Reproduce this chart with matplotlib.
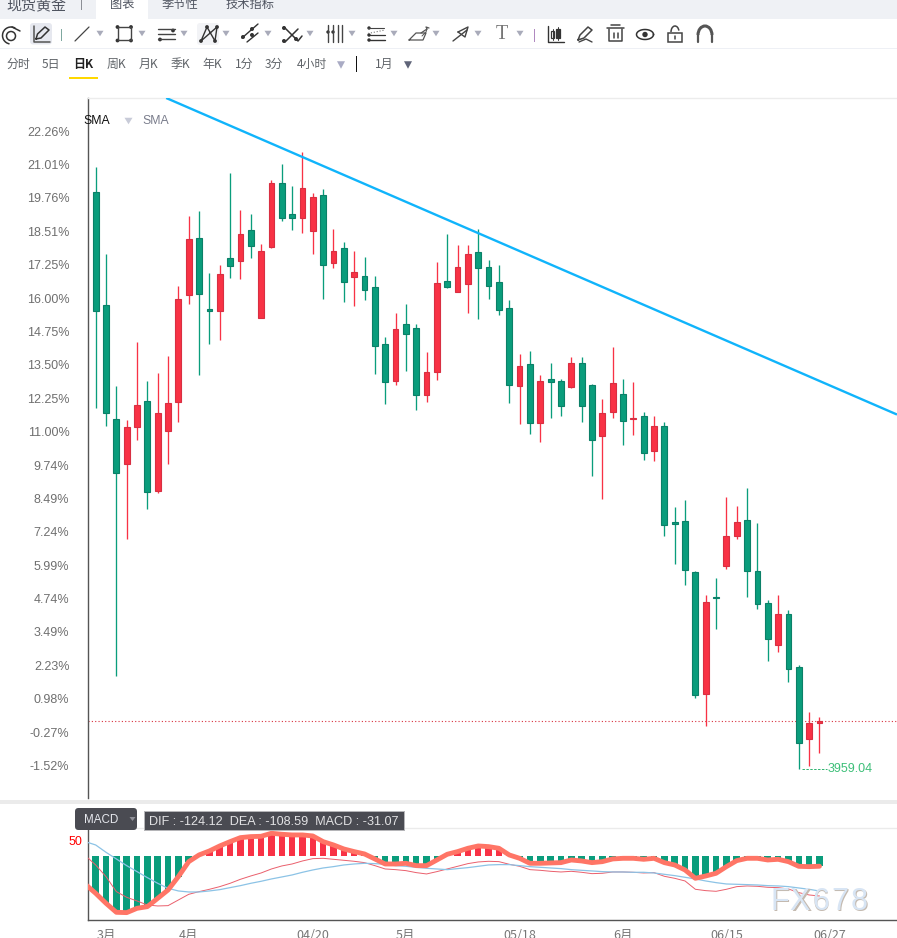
import matplotlib
matplotlib.use("Agg")
import matplotlib.pyplot as plt
import numpy as np
from matplotlib.patches import Rectangle, FancyBboxPatch, Polygon, Circle, Arc

plt.rcParams['font.family'] = ['Noto Sans CJK SC', 'DejaVu Sans']

W, H = 897, 938
GREEN = '#0a9d7c'
GREEN_EDGE = '#0b8068'
RED = '#f83245'
RED_EDGE = '#d82f42'

# Daily candles, percent change against the reference price
opens = [19.98, 15.74, 11.46, 9.80, 11.19, 12.14, 8.79, 11.04, 12.12, 16.14, 18.25, 15.60,
         15.54, 17.50, 17.41, 18.55, 15.27, 17.94, 20.31, 19.16, 19.02, 18.54, 19.86, 17.34,
         17.88, 16.81, 16.83, 16.41, 14.28, 12.91, 15.03, 14.88, 12.39, 13.25, 16.64, 16.25,
         16.55, 17.73, 17.16, 16.60, 15.63, 12.72, 13.53, 11.34, 12.96, 12.89, 12.69, 13.56,
         12.74, 10.85, 11.75, 12.40, 11.49, 11.58, 10.29, 11.21, 7.61, 7.64, 5.73, 1.17,
         4.80, 5.97, 7.10, 7.68, 5.76, 4.56, 3.01, 4.15, 2.16, -0.51, 0.09]
closes = [15.54, 11.71, 9.46, 11.16, 11.99, 8.75, 11.69, 12.06, 15.96, 18.21, 16.17, 15.54,
          16.90, 17.22, 18.40, 17.97, 17.76, 20.31, 19.02, 19.02, 20.13, 19.79, 17.26, 17.76,
          16.62, 16.98, 16.32, 14.22, 12.87, 14.84, 14.67, 12.39, 13.23, 16.56, 16.44, 17.16,
          17.65, 17.15, 16.47, 15.57, 12.76, 13.45, 11.34, 12.89, 12.87, 11.97, 13.56, 11.97,
          10.70, 11.69, 12.81, 11.41, 11.50, 10.19, 11.21, 7.51, 7.55, 5.82, 1.14, 4.60,
          4.77, 7.08, 7.60, 5.79, 4.55, 3.24, 4.15, 2.11, -0.66, 0.06, 0.14]
highs = [20.91, 17.66, 12.71, 11.44, 14.36, 12.90, 13.20, 13.84, 16.46, 19.09, 19.28, 16.95,
         17.25, 20.70, 19.31, 19.16, 18.04, 20.44, 21.04, 20.21, 21.48, 19.95, 20.09, 18.60,
         18.11, 17.78, 17.55, 16.84, 14.55, 15.45, 15.79, 15.04, 13.99, 17.36, 18.41, 18.00,
         18.00, 18.59, 17.43, 17.24, 15.94, 13.91, 14.03, 13.13, 13.58, 12.98, 13.80, 13.80,
         12.79, 12.23, 14.18, 12.98, 12.86, 11.74, 11.59, 11.36, 8.18, 8.44, 5.78, 4.88,
         5.51, 8.55, 8.21, 8.89, 7.58, 4.69, 4.88, 4.31, 2.25, 0.49, 0.30]
lows = [11.88, 11.22, 1.85, 6.98, 10.69, 8.10, 8.71, 9.80, 11.37, 15.80, 13.14, 14.30,
        14.44, 16.77, 16.73, 17.52, 15.27, 17.90, 18.91, 18.57, 18.46, 17.67, 15.99, 17.15,
        15.87, 15.72, 15.95, 13.17, 12.05, 12.76, 13.29, 11.82, 12.12, 12.95, 16.40, 16.25,
        15.46, 15.24, 15.99, 15.39, 12.09, 11.30, 10.92, 10.62, 11.52, 11.60, 12.65, 11.37,
        9.35, 8.49, 11.52, 10.51, 10.89, 9.95, 9.91, 7.10, 6.05, 5.26, 1.02, -0.03,
        3.60, 5.86, 6.99, 4.81, 4.36, 2.41, 2.75, 1.62, -1.64, -1.53, -1.04]

pct_ticks = [22.26, 21.01, 19.76, 18.51, 17.25, 16.00, 14.75, 13.50, 12.25, 11.00,
             9.74, 8.49, 7.24, 5.99, 4.74, 3.49, 2.23, 0.98, -0.27, -1.52]

trend_x = [6.82, 77.5]
trend_y = [23.51, 11.64]

low_label = '3959.04'

# MACD values, first entry belongs to the session before the visible range
macd = [-87.5, -115.6, -146.9, -175.0, -176.0, -162.5, -157.3, -131.3, -105.2, -63.5, -16.7, 4.2,
        16.7, 32.3, 45.8, 58.3, 61.5, 62.5, 71.9, 68.8, 66.7, 66.7, 63.5, 45.8,
        35.4, 22.9, 14.6, 7.3, -8.3, -24.0, -24.0, -21.9, -29.2, -29.2, -11.5, 6.3,
        14.6, 25.0, 32.3, 30.2, 25.0, 4.2, -6.3, -21.9, -21.9, -20.8, -19.8, -11.5,
        -14.6, -19.8, -16.7, -8.3, -6.3, -6.3, -9.4, -6.3, -19.8, -27.1, -42.7, -68.8,
        -61.5, -53.1, -32.3, -13.5, -6.3, -6.3, -11.5, -9.4, -16.7, -31.3, -32.3, -31.07]
dif = [2.1, -27.1, -63.5, -110.4, -128.1, -139.6, -152.1, -155.2, -154.2, -136.5, -118.8, -110.4,
       -103.1, -94.8, -84.4, -71.9, -61.5, -52.1, -39.6, -30.2, -24.0, -14.6, -7.3, -6.3,
       -9.4, -12.5, -15.6, -19.8, -29.2, -39.6, -41.7, -44.8, -51.0, -55.2, -47.9, -39.6,
       -31.3, -22.9, -17.7, -15.6, -16.7, -25.0, -31.3, -41.7, -43.8, -46.9, -49.0, -46.9,
       -50.0, -54.2, -53.1, -49.0, -49.0, -50.0, -52.1, -51.0, -62.5, -68.8, -77.1, -103.1,
       -107.3, -109.4, -103.1, -94.8, -92.7, -93.8, -96.9, -97.9, -102.1, -113.5, -120.8, -124.12]
dea = [45.8, 35.4, 12.5, -8.3, -29.2, -47.9, -66.7, -84.4, -100.0, -108.3, -111.5, -111.5,
       -108.3, -104.2, -97.9, -91.7, -84.4, -78.1, -70.8, -64.6, -58.3, -50.0, -42.7, -36.5,
       -32.3, -27.1, -24.0, -21.9, -22.9, -25.0, -29.2, -31.3, -34.4, -37.5, -39.6, -41.7,
       -38.5, -35.4, -31.3, -27.1, -26.0, -26.0, -29.2, -32.3, -34.4, -36.5, -38.5, -41.7,
       -43.8, -45.8, -47.9, -49.0, -49.0, -50.0, -50.0, -52.1, -56.3, -60.4, -65.6, -70.8,
       -77.1, -82.3, -86.5, -87.5, -88.5, -89.6, -91.7, -92.7, -94.8, -99.0, -103.1, -108.59]

date_pos = [1, 9, 21, 30, 41, 51, 61, 71]
date_labels = ['3月', '4月', '04/20', '5月', '05/18', '6月', '06/15', '06/27']

tabs = [('现货黄金', 36, 10.8), ('图表', 122, 8.8), ('季节性', 180, 8.8), ('技术指标', 250, 8.8)]
periods = [('分时', 18), ('5日', 51), ('日K', 83), ('周K', 116), ('月K', 148), ('季K', 180),
           ('年K', 212), ('1分', 244), ('3分', 274), ('4小时', 312), ('1月', 384)]

fig = plt.figure(figsize=(W / 100, H / 100), dpi=100, facecolor='white')


def axes_box(left, top, right, bottom):
    return [left / W, 1 - bottom / H, (right - left) / W, (bottom - top) / H]


# Price panel
ax = fig.add_axes(axes_box(87.5, 98, W, 798))
ax.set_xlim(-0.79, 77.5)
ax.set_ylim(-2.74, 23.51)
x = np.arange(len(opens))
o, c, h, l = map(np.array, (opens, closes, highs, lows))
up = c >= o
ax.vlines(x[up], l[up], h[up], color=RED, lw=0.95, zorder=2)
ax.vlines(x[~up], l[~up], h[~up], color=GREEN, lw=0.95, zorder=2)
ax.bar(x[up], (c - o)[up], bottom=o[up], width=0.56, color=RED, edgecolor=RED_EDGE, lw=0.8, zorder=3)
ax.bar(x[~up], (c - o)[~up], bottom=o[~up], width=0.56, color=GREEN, edgecolor=GREEN_EDGE, lw=0.8, zorder=3)
ax.plot(trend_x, trend_y, color='#10b4fb', lw=1.7, zorder=4, solid_capstyle='butt')
ax.axhline(closes[-1], color='#d8303f', lw=0.8, ls=(0, (1, 2)), zorder=1)

low_i = int(np.argmin(l))
ax.plot([low_i + 0.35, low_i + 2.75], [lows[low_i]] * 2, color='#2fb36f', lw=0.7, ls=(0, (2.5, 1.5)))
ax.annotate(low_label, (low_i + 2.8, lows[low_i]), va='center', ha='left', color='#3cbf78',
            fontsize=9, family='Liberation Sans')

ax.set_yticks(pct_ticks)
ax.set_yticklabels([f'{t:.2f}%' for t in pct_ticks], color='#6f6f6f', fontsize=9,
                   family='Liberation Sans')
ax.tick_params(axis='y', length=0, pad=13)
ax.set_xticks([])
for side in ('right', 'bottom'):
    ax.spines[side].set_visible(False)
ax.spines['left'].set_color('#555555')
ax.spines['left'].set_linewidth(1.0)
ax.spines['top'].set_color('#ececec')
ax.spines['top'].set_linewidth(1.0)

# MACD panel
mx = fig.add_axes(axes_box(87.5, 804, W, 920.3))
mx.set_xlim(-0.79, 77.5)
mx.set_ylim(-200, 163.4)
xm = np.arange(-1, len(macd) - 1)
hist = np.array(macd)
mx.bar(xm, hist, width=0.63, color=[RED if v > 0 else GREEN for v in hist], zorder=2)
mx.plot(xm, dif, color='#ea5f6c', lw=0.7, zorder=3)
mx.plot(xm, dea, color='#8cc3e6', lw=0.9, zorder=3)
mx.plot(xm, macd, color='#ff7566', lw=3.5, zorder=4, solid_joinstyle='round', solid_capstyle='round')
mx.axhline(88.4, color='#ebebeb', lw=1.0, zorder=1)
mx.set_yticks([50])
mx.set_yticklabels(['50'], color='#ff0000', fontsize=9, family='Liberation Sans')
mx.tick_params(axis='y', length=0, pad=4)
mx.set_xticks(date_pos)
mx.set_xticklabels(date_labels, color='#777777', fontsize=9, family='Noto Sans CJK SC')
mx.tick_params(axis='x', length=0, pad=6.5)
for side in ('right', 'top'):
    mx.spines[side].set_visible(False)
for side in ('left', 'bottom'):
    mx.spines[side].set_color('#555555')
    mx.spines[side].set_linewidth(1.0)
mx.spines['left'].set_bounds(-200, 88.4)

# Interface chrome drawn in screen pixels
ui = fig.add_axes([0, 0, 1, 1], zorder=10)
ui.set_xlim(0, W)
ui.set_ylim(H, 0)
ui.axis('off')
ui.patch.set_alpha(0)


def rect(x0, y0, x1, y1, color, **kw):
    ui.add_patch(Rectangle((x0, y0), x1 - x0, y1 - y0, facecolor=color, edgecolor='none', **kw))


def line(pts, color='#444444', lw=0.9, **kw):
    xs, ys = zip(*pts)
    ui.plot(xs, ys, color=color, lw=lw, solid_capstyle='round', **kw)


def dots(pts, color='#333333', r=2.1):
    for p in pts:
        ui.add_patch(Circle(p, r, facecolor=color, edgecolor='none'))


def tri(cx, cy, w=7, h=5.5, color='#a9abba'):
    ui.add_patch(Polygon([(cx - w / 2, cy - h / 2), (cx + w / 2, cy - h / 2), (cx, cy + h / 2)],
                         facecolor=color, edgecolor='none'))


def rbox(x0, y0, x1, y1, color, r=3):
    ui.add_patch(FancyBboxPatch((x0 + r, y0 + r), x1 - x0 - 2 * r, y1 - y0 - 2 * r,
                                boxstyle=f'round,pad={r},rounding_size={r}',
                                facecolor=color, edgecolor='none'))


# tab strip
rect(0, 0, W, 19, '#eff1f5')
rect(96, 0, 148, 19, 'white')
rect(81, 0, 82, 10, '#8c8f96')
for label, cx, size in tabs:
    ui.text(cx, 4.5, label, ha='center', va='center', fontsize=size, color='#4f5460',
            family='Noto Sans CJK SC')

# drawing toolbar
rect(0, 48, W, 49, '#eef0f5')
rbox(30, 23, 52, 44.5, '#e6e8ef')
rbox(197, 23, 219, 45, '#f2f3f6')
for cx in (100, 142, 184, 226, 268, 310, 352, 394, 436, 478, 520):
    tri(cx, 33.5)
rect(61, 29, 62, 41, '#7fa8a0')
rect(534, 29, 535, 42, '#b089c0')

# spiral button
ui.add_patch(Arc((11, 35.5), 17, 17, theta1=100, theta2=300, color='#333333', lw=1.1))
ui.add_patch(Circle((11, 36), 4.5, facecolor='none', edgecolor='#333333', lw=1.1))
line([(12, 27), (20, 31)], '#333333', 1.1)
# pencil button
line([(34, 26), (34, 42), (50, 42)], '#555555', 1.1)
line([(36, 39), (37.5, 34), (45, 27), (49, 30), (41, 38), (36, 39)], '#333333', 1.1)
# straight line tool
line([(75, 41), (89, 27)], '#444444', 0.9)
# rectangle tool
line([(117.5, 27), (131, 27), (131, 40.5), (117.5, 40.5), (117.5, 27)], '#444444', 1.0)
dots([(117.5, 27), (131, 27), (117.5, 40.5), (131, 40.5)], r=1.9)
# parallel lines
for yy, xend in ((29.5, 175), (34.5, 175), (39.5, 175)):
    line([(158, yy), (xend, yy)], '#444444', 1.0)
dots([(173, 30.5), (160, 39.5)], r=1.9)
# pattern tool
line([(201, 41), (207, 27), (215, 41), (217, 27), (201, 41)], '#333333', 1.0)
dots([(201, 41), (207, 27), (215, 41), (217, 27)], r=1.9)
# channels
line([(242, 38), (258, 24)], '#333333', 1.0)
line([(247, 42), (258, 33)], '#333333', 1.0)
dots([(243, 37), (252, 29), (252, 35)], r=2.0)
# fork
line([(284, 27), (298, 41), (302, 36)], '#333333', 1.1)
line([(285, 42), (298, 29)], '#333333', 1.1)
dots([(284, 28), (284, 41), (296, 39)], r=2.0)
# gann fan bars
for xx in (328, 333, 338, 342):
    line([(xx, 25), (xx, 42)], '#444444', 1.0)
dots([(328, 32), (333, 32)], r=1.7)
# fibonacci
line([(368, 28), (384, 28)], '#444444', 0.8)
line([(368, 33.5), (385, 30)], '#777777', 0.8, ls=':')
line([(368, 40), (385, 40)], '#333333', 1.0)
line([(368, 35), (385, 35)], '#333333', 0.9)
dots([(369, 28), (369, 35), (369, 40)], r=1.7)
# brush
line([(409, 40), (423, 40), (426, 33), (416, 33), (409, 40)], '#555555', 0.9)
line([(421, 33), (427, 29), (426, 27), (429, 28)], '#555555', 0.9)
line([(422, 36), (426, 32), (427, 29)], '#555555', 0.7)
# arrow
line([(453, 41), (467, 30)], '#444444', 1.0)
line([(458, 32), (468, 27), (465, 37), (458, 32)], '#444444', 1.0)
# text tool
ui.text(502, 34.5, 'T', ha='center', va='center', fontsize=14.5, color='#777777', family='Liberation Serif')
# candle tool
line([(547.5, 26), (547.5, 42), (563.5, 42)], '#333333', 1.0)
rect(551, 31, 554, 38, 'white')
ui.add_patch(Rectangle((551, 31), 3, 7, facecolor='white', edgecolor='#333333', lw=0.9))
ui.add_patch(Rectangle((556, 29), 3.5, 9, facecolor='#333333', edgecolor='#333333', lw=0.9))
line([(552.5, 29), (552.5, 40)], '#333333', 0.7)
line([(557.7, 27), (557.7, 40)], '#333333', 0.7)
# pen
line([(578, 40), (580, 35), (588, 27), (592, 30), (584, 38), (578, 40)], '#444444', 1.1)
line([(579, 42), (586, 39), (592, 42)], '#444444', 1.0)
# trash can
line([(607, 28.5), (624, 28.5)], '#444444', 1.1)
line([(611, 25.5), (620, 25.5)], '#444444', 1.1)
line([(609, 29), (609, 41), (622, 41), (622, 29)], '#444444', 1.1)
line([(614, 33), (614, 38)], '#444444', 1.1)
line([(618, 33), (618, 38)], '#444444', 1.1)
# eye
theta = np.linspace(0, 2 * np.pi, 60)
ui.plot(645 + 8.5 * np.cos(theta), 34.5 + 5 * np.sin(theta), color='#333333', lw=1.1)
ui.add_patch(Circle((645, 34.5), 2.7, facecolor='#333333', edgecolor='none'))
# padlock
ui.add_patch(Rectangle((668, 33), 14, 9, facecolor='none', edgecolor='#444444', lw=1.1))
ui.add_patch(Arc((675, 32), 8, 12, theta1=180, theta2=340, color='#444444', lw=1.1))
line([(675, 36), (675, 39)], '#444444', 1.1)
# magnet
ui.add_patch(Arc((705, 35), 14, 18, theta1=180, theta2=360, color='#555555', lw=2.2))
line([(698, 35), (698, 42)], '#555555', 1.6)
line([(712, 35), (712, 42)], '#555555', 1.6)

# timeframe selector
for label, cx in periods:
    selected = label == '日K'
    ui.text(cx, 64.5, label, ha='center', va='center', fontsize=8.6,
            color='#222222' if selected else '#5f6368',
            fontweight='bold' if selected else 'normal', family='Noto Sans CJK SC')
rect(69, 77, 98, 79, '#ffd800')
tri(341, 65, 8, 7.5, '#a9abc4')
tri(408, 65, 8, 7.5, '#5f6478')
rect(356.2, 56, 357.2, 72, '#111111')

# indicator captions
ui.text(97, 120.5, 'SMA', ha='center', va='center', fontsize=8.8, color='#111111', family='Liberation Sans')
tri(128.5, 121, 8, 6.5, '#c8cbd8')
ui.text(155.5, 120.5, 'SMA', ha='center', va='center', fontsize=8.8, color='#7a7d8c', family='Liberation Sans')

# divider between panels
rect(0, 800, W, 804, '#ebebeb')

# MACD badge and readout
rbox(75, 808, 137, 830, '#4a4b52', r=3.5)
ui.text(101, 820, 'MACD', ha='center', va='center', fontsize=8.4, color='#e6e8ee', family='Liberation Sans')
tri(132.5, 819, 6, 4, '#8f9098')
rect(144, 811, 404.5, 831, '#b5b5b8')
rect(145, 812, 403.5, 830, '#4a4b52')
ui.text(149, 822.3, 'DIF : -124.12  DEA : -108.59  MACD : -31.07', ha='left', va='center',
        fontsize=9.05, color='#e2e2e4', family='Liberation Sans')

# FX678 watermark, soft shadow under each letter
for ch, cx in zip('FX678', (780, 800, 820.5, 840, 859)):
    ui.text(cx + 1, 903, ch, ha='center', va='center', fontsize=22, color='#c4bab0',
            family='Liberation Sans')
    ui.text(cx, 902, ch, ha='center', va='center', fontsize=22, color='#d8e5f4',
            family='Liberation Sans')

fig.savefig('out.png', dpi=100)
